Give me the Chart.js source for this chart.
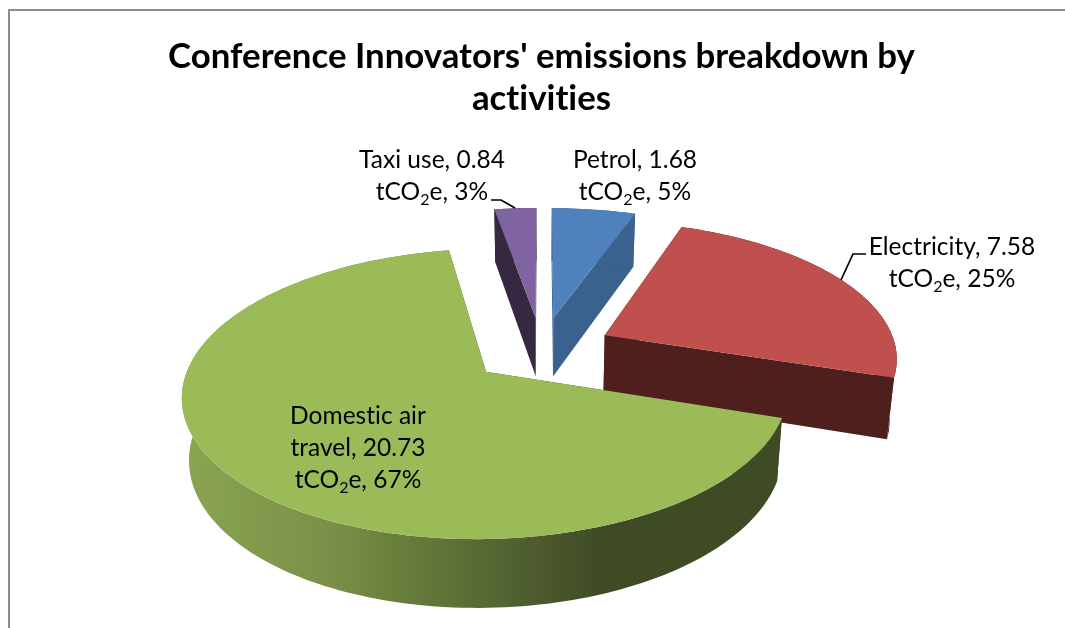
<!DOCTYPE html>
<html>
<head>
<meta charset="utf-8">
<title>Emissions breakdown</title>
<script src="https://cdn.jsdelivr.net/npm/chart.js@4/dist/chart.umd.min.js"></script>
<style>
  html, body { margin: 0; padding: 0; background: #fff; overflow: hidden; }
  #wrap { position: absolute; left: 0; top: 0; width: 1065px; height: 628px; }
  #frame { position: absolute; left: 8px; top: 9px; right: 0; bottom: 0; border-left: 2px solid #8c8c8c; border-top: 2px solid #8c8c8c; }
  canvas { position: absolute; left: 0; top: 0; }
</style>
</head>
<body>
<div id="wrap">
  <div id="frame"></div>
  <canvas id="pie" width="1065" height="628"></canvas>
</div>
<script>
// data
var categories = ['Petrol', 'Electricity', 'Domestic air travel', 'Taxi use'];
var values = [1.68, 7.58, 20.73, 0.84];
var titleLines = ["Conference Innovators' emissions breakdown by", 'activities'];
var unit = 'tCO₂e';

var topColors = ['#4f81bd', '#c0504d', '#9bbb59', '#8064a2'];
var wallColors = ['#3b618f', '#4f1f1e', '#3f4b24', '#352840'];

// far slices first, the big one goes on top
var drawOrder = [3, 0, 1, 2];

// label layout, one entry per category (centre x, first baseline, leader line)
var labelBoxes = [
    { x: 635, y: 168, head: ['Petrol, 1.68'] },
    { x: 952, y: 255, head: ['Electricity, 7.58'], leader: [[866, 254], [853, 254], [841, 280]] },
    { x: 358, y: 424, head: ['Domestic air', 'travel, 20.73'] },
    { x: 432, y: 168, head: ['Taxi use, 0.84'], leader: [[491, 200], [501, 200], [515, 208]] }
];

var total = values.reduce((a, b) => a + b, 0);

// fake 3D: the arcs keep their angles from Chart.js, only the painting is projected
var pie3d = {
    id: 'pie3d',
    beforeDraw: function (chart) {
        // tiny spacing turns off the Lato "ti" ligature, the title has none
        chart.ctx.letterSpacing = '0.01px';
    },
    beforeDatasetDraw: function (chart, args, opts) {
        var ctx = chart.ctx;
        var arcs = chart.getDatasetMeta(0).data;

        function project(u, v, z) {
            var w = 1 + opts.perspective * v;
            return {
                x: arcs[0].x + opts.rx * u / w * (1 - 0.02 * z),
                y: arcs[0].y - opts.ry * v / w + z * opts.depth / (1 + 0.11 * v)
            };
        }

        drawOrder.forEach(function (i) {
            var arc = arcs[i];
            var a0 = arc.startAngle + Math.PI / 2;
            var a1 = arc.endAngle + Math.PI / 2;
            var mid = (a0 + a1) / 2;
            var ox = opts.explode * Math.sin(mid);
            var oy = opts.explode * Math.cos(mid);

            function rim(a, z) {
                return project(ox + Math.sin(a), oy + Math.cos(a), z);
            }
            function apex(z) {
                return project(ox, oy, z);
            }
            function poly(points, fill) {
                ctx.beginPath();
                points.forEach(function (p, n) {
                    if (n === 0) ctx.moveTo(p.x, p.y); else ctx.lineTo(p.x, p.y);
                });
                ctx.closePath();
                ctx.fillStyle = fill;
                ctx.fill();
            }

            var steps = Math.max(4, Math.ceil((a1 - a0) * 40));
            var topEdge = [], lowEdge = [];
            for (var s = 0; s <= steps; s++) {
                var a = a0 + (a1 - a0) * s / steps;
                topEdge.push(rim(a, 0));
                lowEdge.push(rim(a, 1));
            }

            var wall = wallColors[i];
            // radial walls
            poly([apex(0), rim(a0, 0), rim(a0, 1), apex(1)], wall);
            poly([apex(0), rim(a1, 0), rim(a1, 1), apex(1)], wall);

            // outer wall, the green one is shaded from the left
            var rimFill = wall;
            if (i === 2) {
                rimFill = ctx.createLinearGradient(182, 0, 780, 0);
                rimFill.addColorStop(0, '#8ba552');
                rimFill.addColorStop(0.25, '#7a8f48');
                rimFill.addColorStop(0.37, '#697d3c');
                rimFill.addColorStop(0.565, '#505f30');
                rimFill.addColorStop(0.7, '#3f4b25');
                rimFill.addColorStop(1, '#3f4b24');
            }
            poly(topEdge.concat(lowEdge.slice().reverse()), rimFill);

            // top face
            poly([apex(0)].concat(topEdge), topColors[i]);
        });
        return false;
    },
    afterDraw: function (chart) {
        var ctx = chart.ctx;
        ctx.save();
        ctx.fillStyle = '#000';
        ctx.textBaseline = 'alphabetic';
        labelBoxes.forEach(function (box, i) {
            var pct = Math.round(values[i] / total * 100);
            var lines = box.head.concat([unit + ', ' + pct + '%']);
            var font = '24.5px Lato';
            lines.forEach(function (line, n) {
                var y = box.y + n * 32;
                var parts = line.split('₂');
                ctx.textAlign = 'left';
                ctx.font = font;
                if (parts.length === 1) {
                    ctx.fillText(line, box.x - ctx.measureText(line).width / 2, y);
                    return;
                }
                var w0 = ctx.measureText(parts[0]).width;
                var w2 = ctx.measureText(parts[1]).width;
                ctx.font = '16px Lato';
                var wSub = ctx.measureText('2').width;
                var x = box.x - (w0 + wSub + w2) / 2;
                ctx.font = font;
                ctx.fillText(parts[0], x, y);
                ctx.font = '16px Lato';
                ctx.fillText('2', x + w0, y + 5);
                ctx.font = font;
                ctx.fillText(parts[1], x + w0 + wSub, y);
            });
            if (box.leader) {
                ctx.beginPath();
                box.leader.forEach(function (p, n) {
                    if (n === 0) ctx.moveTo(p[0], p[1]); else ctx.lineTo(p[0], p[1]);
                });
                ctx.strokeStyle = '#000';
                ctx.lineWidth = 1.7;
                ctx.stroke();
            }
        });
        ctx.restore();
    }
};

var ctx = document.getElementById('pie').getContext('2d');
var pieChart = new Chart(ctx, {
    type: 'pie',
    data: {
        labels: categories,
        datasets: [{
            data: values,
            backgroundColor: topColors,
            borderWidth: 0
        }]
    },
    options: {
        responsive: false,
        animation: false,
        layout: { padding: { left: 18, bottom: 49 } },
        plugins: {
            legend: { display: false },
            tooltip: { enabled: false },
            title: {
                display: true,
                text: titleLines,
                color: '#000',
                font: { family: 'Lato', size: 34.8, weight: 'bold', lineHeight: 1.207 },
                padding: { top: 36, bottom: 0 }
            },
            pie3d: { rx: 292, ry: 135, perspective: 0.15, depth: 60, explode: 0.245 }
        }
    },
    plugins: [pie3d]
});
</script>
</body>
</html>
